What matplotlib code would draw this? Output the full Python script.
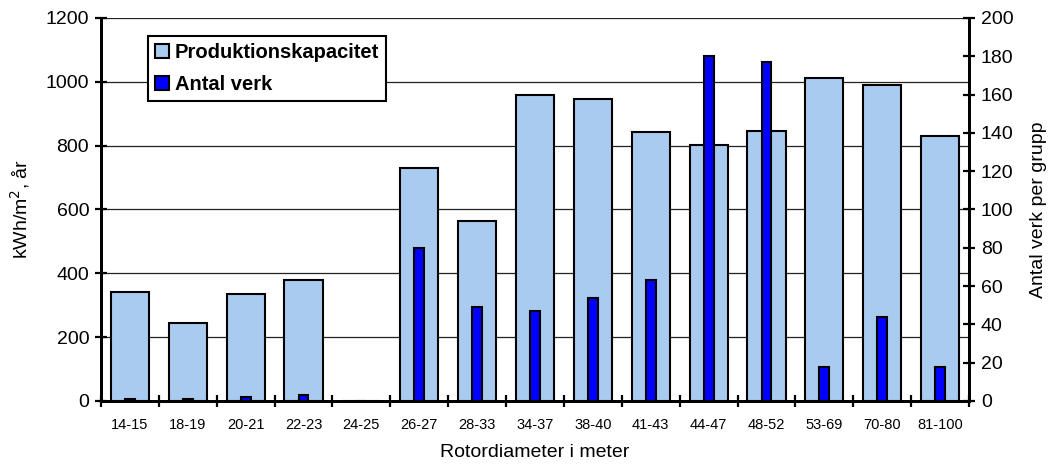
# -*- coding: utf-8 -*-
# production capacity and number of turbines per rotor diameter group
import numpy as np
import matplotlib
matplotlib.use("Agg")
import matplotlib.pyplot as plt

plt.rcParams['font.family'] = ['Liberation Sans', 'DejaVu Sans']

# rotor diameter groups (metres)
groups = ["14-15", "18-19", "20-21", "22-23", "24-25", "26-27", "28-33",
          "34-37", "38-40", "41-43", "44-47", "48-52", "53-69", "70-80",
          "81-100"]

# production capacity, kWh/m2 per year (left axis)
capacity = [342, 245, 336, 378, 0, 731, 563, 960, 945, 842, 802, 847,
            1012, 990, 831]

# number of turbines per group (right axis)
n_turbines = [1, 1, 2, 3, 0, 80, 49, 47, 54, 63, 180, 177, 18, 44, 18]

light_blue = "#A8CBEF"
dark_blue = "#0000FF"

x_pos = np.arange(len(groups))

fig = plt.figure(figsize=(10.51, 4.66), dpi=100)
ax = fig.add_axes([0.0961, 0.1395, 0.8259, 0.8219])
ax2 = ax.twinx()

# wide bars on the left axis
bars_cap = ax.bar(x_pos, capacity, width=0.66, color=light_blue,
                  edgecolor="black", linewidth=1.5,
                  label="Produktionskapacitet", zorder=2)

# narrow bars on the right axis
bars_n = ax2.bar(x_pos, n_turbines, width=0.17, color=dark_blue,
                 edgecolor="black", linewidth=1.5,
                 label="Antal verk", zorder=3)

ax.set_xlim(-0.5, len(groups) - 0.5)
ax.set_ylim(0, 1200)
ax2.set_ylim(0, 200)

# grid lines from the left axis
ax.set_yticks(np.arange(0, 1201, 200))
ax.yaxis.grid(True, color="#222222", linewidth=0.9)
ax.set_axisbelow(True)
ax2.set_yticks(np.arange(0, 201, 20))

# ticks between the groups, labels in the middle
ax.set_xticks(np.arange(-0.5, len(groups), 1.0))
ax.set_xticklabels([])
ax.set_xticks(x_pos, minor=True)
ax.set_xticklabels(groups, minor=True, fontsize=10.5)
ax.tick_params(axis="x", which="minor", length=0, pad=12)
ax.tick_params(axis="x", which="major", direction="inout", length=9,
               width=1.6)
ax.tick_params(axis="y", direction="inout", length=9, width=1.6,
               labelsize=14, pad=4)
ax2.tick_params(axis="y", direction="inout", length=9, width=1.6,
                labelsize=14, pad=4)

for a in (ax, ax2):
    a.spines["top"].set_visible(False)
    for side in ("left", "right", "bottom"):
        a.spines[side].set_linewidth(2)

ax.set_xlabel("Rotordiameter i meter", fontsize=14, labelpad=9)
ax.set_ylabel("kWh/m$^2$, år", fontsize=14, labelpad=10)
ax2.set_ylabel("Antal verk per grupp", fontsize=14, labelpad=12)

# legend with both series on top of the bars
leg = ax2.legend([bars_cap, bars_n], ["Produktionskapacitet", "Antal verk"],
                 loc="upper left", bbox_to_anchor=(0.054, 0.953),
                 borderaxespad=0, fancybox=False, framealpha=1,
                 edgecolor="black", handlelength=0.7, handleheight=0.7,
                 handletextpad=0.3, borderpad=0.35, labelspacing=0.65,
                 prop={"weight": "bold", "size": 14.5})
leg.get_frame().set_linewidth(1.5)

plt.savefig("out.png", dpi=100)
